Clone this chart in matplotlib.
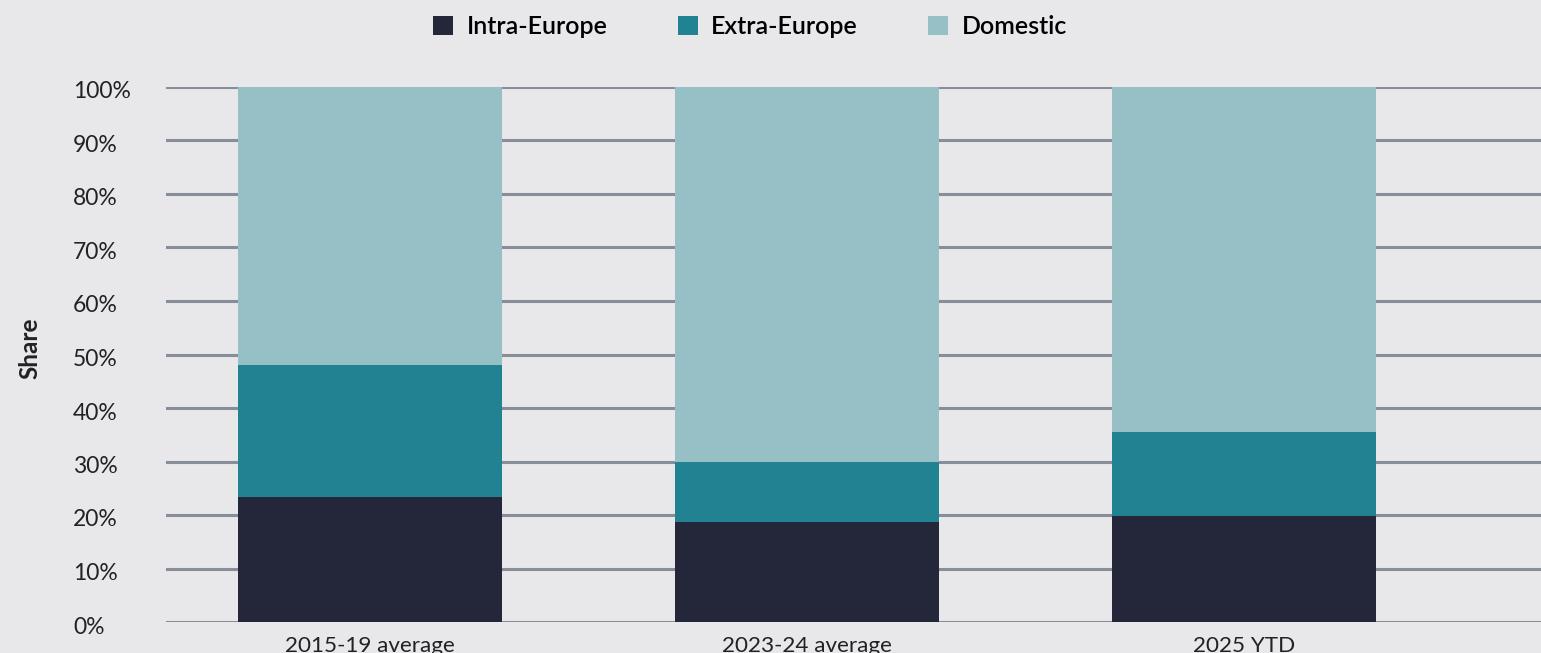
import matplotlib.pyplot as plt
import matplotlib.transforms as mtransforms
import numpy as np

categories = ["2015-19 average", "2023-24 average", "2025 YTD"]
intra_europe = [23.3, 18.6, 19.9]
extra_europe = [24.7, 11.4, 15.7]
domestic = [52.0, 70.0, 64.4]
series_names = ["Intra-Europe", "Extra-Europe", "Domestic"]
yticks = [0, 10, 20, 30, 40, 50, 60, 70, 80, 90, 100]

colors = ["#24273a", "#218291", "#96c0c6"]
bg = "#e8e8eb"
grid_color = "#878e99"
text_color = "#222222"

plt.rcParams["font.family"] = ["Lato", "DejaVu Sans"]

fig = plt.figure(figsize=(15.41, 6.53), dpi=100)
fig.patch.set_facecolor(bg)
ax = fig.add_axes([166 / 1541, 1 - 622 / 653, 1 - 166 / 1541, (622 - 87) / 653])
ax.set_facecolor(bg)

x = np.arange(len(categories))
width = 0.604
bottom = np.zeros(len(categories))
handles = []
for vals, col, name in zip([intra_europe, extra_europe, domestic], colors, series_names):
    b = ax.bar(x, vals, width, bottom=bottom, color=col, label=name, zorder=3, linewidth=0)
    handles.append(b)
    bottom += np.array(vals)

ax.set_ylim(0, 100)
ax.set_xlim(-0.467, 2.68)
ax.set_yticks(yticks)
ax.set_yticklabels([])
ax.tick_params(axis="y", length=0)

# y labels, left-aligned and sitting slightly below their gridlines
ylab_trans = mtransforms.blended_transform_factory(fig.transFigure, ax.transData) + \
    mtransforms.ScaledTranslation(0, -5 / 100, fig.dpi_scale_trans)
for v in yticks:
    ax.text(73 / 1541, v, f"{v}%", transform=ylab_trans, ha="left", va="center",
            fontsize=16.5, color=text_color, clip_on=False)

ax.set_xticks(x)
ax.set_xticklabels(categories, fontsize=16.2, color=text_color)
ax.tick_params(axis="x", length=0, pad=10)

ax.yaxis.grid(True, color=grid_color, linewidth=2.2, zorder=0)
ax.set_axisbelow(True)
for s in ax.spines.values():
    s.set_visible(False)

fig.text(30 / 1541, 1 - 348 / 653, "Share", rotation=90, ha="center", va="center",
         fontsize=17.5, fontweight="bold", color=text_color)

fig.legend(handles=handles, labels=series_names, loc="center", ncol=3,
           bbox_to_anchor=(750 / 1541, 1 - 27 / 653), frameon=False,
           handlelength=0.8, handleheight=0.8, handletextpad=0.55,
           columnspacing=2.8, prop={"weight": "semibold", "size": 18})

fig.savefig("out.png", dpi=100, facecolor=bg)
